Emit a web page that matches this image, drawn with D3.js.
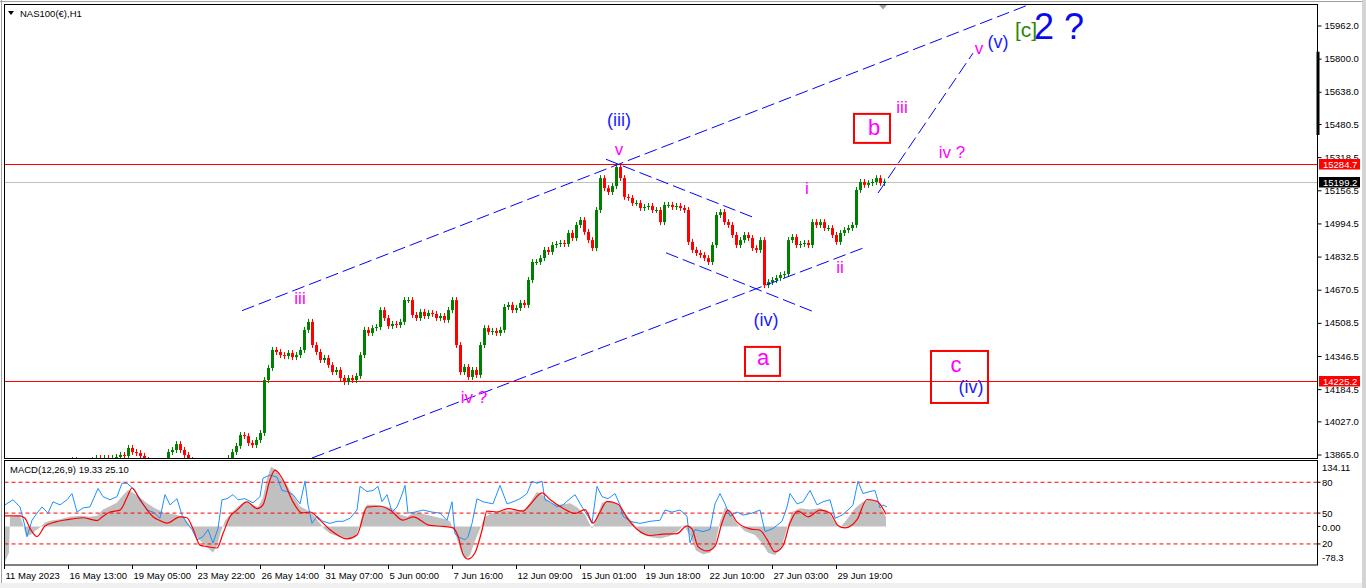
<!DOCTYPE html>
<html>
<head>
<meta charset="utf-8">
<script src="https://cdn.jsdelivr.net/npm/d3@7"></script>
<style>
  body { margin: 0; background: #fff; overflow: hidden; }
  svg { display: block; font-family: "Liberation Sans", Arial, sans-serif; }
</style>
</head>
<body>
<svg id="chart" width="1366" height="588"></svg>
<script>
// ---- data ----
const symbol = 'NAS100(€),H1';
const macdTitle = 'MACD(12,26,9) 19.33 25.10';

// H1 closes, one every 4 bars
const barStep = 4;
const closes = [
  13809,13819,13828,13819,13823,13765,13716,13740,13750,13770,
  13789,13780,13799,13809,13804,13819,13828,13838,13809,13819,
  13823,13828,13838,13848,13838,13848,13843,13848,13853,13863,
  13858,13897,13877,13872,13858,13838,13828,13828,13823,13814,
  13828,13877,13887,13916,13887,13863,13838,13809,13780,13760,
  13770,13780,13750,13765,13789,13828,13848,13877,13907,13960,
  13955,13921,13911,13936,13970,14229,14288,14376,14366,14351,
  14346,14361,14341,14351,14376,14474,14513,14400,14366,14327,
  14337,14302,14268,14278,14239,14219,14239,14229,14249,14351,
  14474,14459,14483,14488,14571,14532,14493,14503,14498,14513,
  14620,14620,14547,14532,14562,14542,14557,14552,14532,14542,
  14523,14571,14620,14400,14268,14293,14244,14278,14254,14400,
  14483,14464,14469,14459,14474,14586,14596,14571,14581,14606,
  14596,14718,14806,14806,14825,14865,14855,14889,14894,14899,
  14894,14948,14923,14987,15011,14953,14913,14874,15060,15216,
  15167,15148,15177,15270,15216,15124,15119,15094,15094,15070,
  15075,15080,15060,15060,15001,15085,15085,15075,15080,15070,
  15060,14904,14865,14850,14840,14825,14806,14889,15036,15050,
  15001,14987,14938,14889,14913,14938,14923,14874,14865,14913,
  14693,14708,14718,14728,14742,14747,14913,14928,14889,14894,
  14899,14889,15001,14987,15001,14972,14972,14938,14904,14948,
  14962,14972,14987,15158,15197,15183,15192,15197,15216,15192,
  15199.2
];

const priceTicks = [15962.0, 15800.0, 15638.0, 15480.5, 15318.5, 15156.5, 14994.5,
  14832.5, 14670.5, 14508.5, 14346.5, 14184.5, 14027.0, 13865.0];

const timeTickStep = 64;
const timeLabels = ['11 May 2023', '16 May 13:00', '19 May 05:00', '23 May 22:00',
  '26 May 14:00', '31 May 07:00', '5 Jun 00:00', '7 Jun 16:00', '12 Jun 09:00',
  '15 Jun 01:00', '19 Jun 18:00', '22 Jun 10:00', '27 Jun 03:00', '29 Jun 19:00'];

// horizontal price lines: [price, kind]
const priceLines = [[15284.7, 'alert'], [15199.2, 'bid'], [14225.2, 'alert']];

// MACD main (histogram), [bar, value]
const macdMain = [
  [0,-78],[5,-55],[6,20],[16,22],[19,5],[22,-20],[26,-18],[32,-8],[36,-2],[41,8],
  [46,12],[56,15],[66,20],[76,22],[86,20],[93,22],[99,35],[106,42],[113,50],[119,65],
  [124,76],[129,70],[136,60],[143,48],[151,38],[161,28],[171,25],[179,20],[184,8],[189,-8],
  [194,-25],[199,-35],[204,-45],[209,-55],[213,-40],[217,-10],[221,12],[226,25],[233,40],[241,52],
  [248,45],[254,40],[259,60],[263,100],[267,124],[272,118],[277,100],[283,85],[289,65],[296,42],
  [302,35],[308,27],[314,12],[320,-5],[326,-15],[336,-22],[346,-25],[352,-20],[356,5],[359,30],
  [363,45],[371,45],[381,42],[388,38],[396,25],[403,20],[411,30],[421,25],[431,20],[441,15],
  [446,10],[451,-15],[456,-45],[461,-68],[466,-60],[471,-30],[476,-5],[481,20],[491,30],[501,33],
  [511,33],[521,35],[526,50],[533,72],[539,65],[546,50],[556,45],[566,48],[573,40],[581,25],
  [588,-5],[593,20],[598,50],[606,52],[614,45],[621,28],[628,10],[636,-12],[646,-22],[656,-25],
  [666,-20],[674,-10],[680,3],[686,-20],[692,-50],[699,-58],[706,-55],[711,-40],[716,10],[721,40],
  [726,30],[733,5],[741,-10],[751,-18],[758,-35],[764,-55],[771,-60],[778,-40],[783,-5],[788,30],
  [796,38],[806,35],[816,38],[824,32],[831,8],[836,-3],[843,15],[851,38],[858,50],[866,57],
  [873,50],[878,35],[882,19.33]
];

// MACD signal, [bar, value]
const macdSignal = [
  [1,22],[16,22],[21,17],[26,-4],[33,-21],[41,1],[51,9],[63,14],[79,18],[93,12],
  [99,21],[106,30],[116,34],[123,60],[128,80],[136,55],[143,35],[149,20],[156,12],[163,7],
  [176,20],[183,18],[189,-5],[196,-39],[203,-42],[213,-45],[219,-15],[226,20],[233,34],[243,51],
  [253,37],[259,45],[266,97],[271,117],[279,97],[289,51],[298,28],[306,30],[316,13],[326,-7],
  [343,-26],[353,-18],[363,40],[376,42],[386,34],[399,13],[409,20],[426,2],[439,0],[449,-3],
  [454,-20],[459,-58],[464,-68],[471,-55],[478,-8],[483,32],[493,30],[504,37],[519,32],[526,45],
  [538,70],[546,56],[559,38],[571,27],[581,35],[589,7],[596,30],[603,52],[614,46],[624,15],
  [633,-6],[646,-19],[659,-16],[673,-15],[683,1],[688,-5],[694,-42],[703,-51],[711,-41],[718,7],
  [724,34],[733,9],[746,-5],[756,-8],[763,-27],[771,-53],[779,-40],[786,7],[794,32],[804,20],
  [816,34],[826,28],[834,2],[841,-3],[853,14],[863,56],[873,52],[882,25.1]
];

// overlaid 0-100 oscillator (blue), [bar, value]
const oscillator = [
  [1,58],[9,63],[16,56],[21,37],[23,27],[28,43],[33,50],[38,56],[44,50],[49,61],
  [56,58],[63,63],[68,69],[73,51],[79,55],[86,56],[94,74],[99,66],[106,63],[113,66],
  [118,79],[123,79],[129,74],[136,64],[143,53],[149,51],[156,45],[161,68],[166,58],[173,64],
  [178,48],[183,40],[188,34],[193,24],[199,27],[204,34],[209,21],[214,35],[218,63],[223,64],
  [229,68],[234,63],[241,64],[249,60],[256,66],[259,84],[266,87],[273,85],[278,72],[283,71],
  [289,68],[296,59],[301,81],[304,58],[308,40],[313,47],[319,42],[326,40],[333,42],[339,42],
  [346,45],[353,53],[356,76],[363,71],[369,72],[374,76],[378,61],[383,68],[388,51],[393,56],
  [398,68],[401,77],[404,50],[411,51],[419,53],[428,51],[436,50],[443,43],[448,61],[451,30],
  [454,27],[461,24],[464,27],[468,40],[473,64],[479,61],[489,59],[496,77],[503,59],[509,61],
  [516,64],[523,69],[528,81],[533,79],[538,81],[541,63],[546,61],[553,56],[559,58],[566,64],
  [571,68],[578,56],[584,47],[588,40],[593,76],[598,66],[604,64],[611,69],[616,58],[619,47],
  [626,42],[636,40],[646,42],[656,43],[661,53],[668,51],[676,53],[683,47],[686,21],[691,34],
  [699,32],[706,34],[711,59],[716,69],[721,59],[726,47],[733,51],[739,48],[748,50],[756,53],
  [761,32],[769,35],[778,42],[783,56],[786,69],[793,59],[799,61],[806,72],[813,58],[819,61],
  [826,63],[831,45],[838,48],[844,53],[849,58],[854,81],[859,69],[866,71],[871,72],[876,55],
  [879,58],[883,56]
];

const macdTicks = [134.11, 0, -78.3];
const levels = [80, 50, 20];

// dashed trend lines: [bar1, price1, bar2, price2]
const trendLines = [
  [238, 14568, 1024, 16062],
  [308, 13848, 859, 14874],
  [602, 15308, 751, 15021],
  [662, 14851, 811, 14560],
  [874, 15143, 969, 15827]
];

// wave labels: [text, bar, baseline price, kind]
const waveLabels = [
  ['(iii)', 615, 15471, 'blue'],
  ['v', 615, 15329, 'minor'],
  ['iii', 296, 14601, 'minor'],
  ['iv ?', 470, 14117, 'minor'],
  ['(iv)', 762, 14493, 'blue'],
  ['a', 759, 14302, 'box'],
  ['b', 870, 15427, 'box'],
  ['iii', 898, 15536, 'minor'],
  ['iv ?', 948, 15313, 'minor'],
  ['i', 803, 15138, 'minor'],
  ['ii', 836, 14751, 'minor'],
  ['c', 952, 14270, 'box'],
  ['(iv)', 967, 14164, 'blue'],
  ['v', 975, 15823, 'minor'],
  ['(v)', 994, 15851, 'blue'],
  ['[c]', 1022, 15904, 'green'],
  ['2 ?', 1055, 15895, 'big']
];

// label boxes: [bar, price] of the centre, [width, height] in px
const labelBoxes = [
  [758.5, 14320, 35, 29],
  [868, 15459, 36, 29],
  [955.5, 14244, 57, 52]
];

// ---- layout ----
const frame = {left: 4.5, right: 1317.5, top: 4.5, bottom: 458.5, subTop: 460.5, subBottom: 565};
const labelStyle = {
  minor: {size: 17, color: '#ff00ff'},
  blue:  {size: 18, color: '#1a1aff'},
  box:   {size: 22, color: '#ff00ff'},
  green: {size: 21, color: '#2a8a00'},
  big:   {size: 36, color: '#0a0aee'}
};

const svg = d3.select('#chart');

const x = d3.scaleLinear().domain([0, 1314]).range([4, 1318]);
const y = d3.scaleLinear().domain([13865, 15962]).range([454.5, 25.5]);
const yMacd = d3.scaleLinear().domain([-78.3, 134.11]).range([564, 462]);
const yLevel = d3.scaleLinear().domain([0, 100]).range([564.5, 461.7]);

const defs = svg.append('defs');
defs.append('clipPath').attr('id', 'clipMain')
    .append('rect').attr('x', frame.left).attr('y', frame.top)
    .attr('width', frame.right - frame.left).attr('height', frame.bottom - frame.top);
defs.append('clipPath').attr('id', 'clipSub')
    .append('rect').attr('x', frame.left).attr('y', frame.subTop)
    .attr('width', frame.right - frame.left).attr('height', frame.subBottom - frame.subTop);

// window chrome
svg.append('rect').attr('x', 0).attr('y', 0).attr('width', 1366).attr('height', 588).attr('fill', '#fff');
svg.append('rect').attr('x', 0).attr('y', 583).attr('width', 1366).attr('height', 5).attr('fill', '#f0f0f0');
svg.append('rect').attr('x', 1362).attr('y', 0).attr('width', 4).attr('height', 588).attr('fill', '#d4d4d4');
svg.append('line').attr('x1', 1.5).attr('x2', 1.5).attr('y1', 0).attr('y2', 583).attr('stroke', '#a0a0a0');
svg.append('line').attr('x1', 0).attr('x2', 1362).attr('y1', 1.5).attr('y2', 1.5).attr('stroke', '#a0a0a0');

// ---- price panel ----
const main = svg.append('g').attr('clip-path', 'url(#clipMain)');

main.selectAll('line.level')
    .data(priceLines)
    .join('line')
        .attr('x1', frame.left).attr('x2', frame.right)
        .attr('y1', d => Math.round(y(d[0])) + 0.5)
        .attr('y2', d => Math.round(y(d[0])) + 0.5)
        .attr('stroke', d => d[1] === 'bid' ? '#c0c0c0' : '#ff0000');

const candles = closes.map((c, i) => ({bar: i * barStep, open: i ? closes[i - 1] : c, close: c}));

const cg = main.selectAll('g.candle')
    .data(candles)
    .join('g')
        .attr('fill', d => d.close >= d.open ? '#008000' : '#ff0000')
        .attr('stroke', d => d.close >= d.open ? '#008000' : '#ff0000');
cg.append('line')
    .attr('x1', d => Math.round(x(d.bar)) + 0.5).attr('x2', d => Math.round(x(d.bar)) + 0.5)
    .attr('y1', d => y(Math.max(d.open, d.close)) - 3)
    .attr('y2', d => y(Math.min(d.open, d.close)) + 3);
cg.append('rect')
    .attr('stroke', 'none')
    .attr('x', d => Math.round(x(d.bar)) - 1)
    .attr('width', 3)
    .attr('y', d => y(Math.max(d.open, d.close)))
    .attr('height', d => Math.max(1, Math.abs(y(d.open) - y(d.close))));

main.selectAll('line.trend')
    .data(trendLines)
    .join('line')
        .attr('x1', d => x(d[0])).attr('y1', d => y(d[1]))
        .attr('x2', d => x(d[2])).attr('y2', d => y(d[3]))
        .attr('stroke', '#0000ff')
        .attr('stroke-width', 1)
        .attr('stroke-dasharray', '13,5');

main.selectAll('rect.box')
    .data(labelBoxes)
    .join('rect')
        .attr('x', d => x(d[0]) - d[2] / 2).attr('y', d => y(d[1]) - d[3] / 2)
        .attr('width', d => d[2]).attr('height', d => d[3])
        .attr('fill', 'none').attr('stroke', '#ff0000').attr('stroke-width', 2);

main.selectAll('text.wave')
    .data(waveLabels)
    .join('text')
        .attr('x', d => x(d[1])).attr('y', d => y(d[2]))
        .attr('text-anchor', 'middle')
        .attr('font-size', d => labelStyle[d[3]].size)
        .attr('fill', d => labelStyle[d[3]].color)
        .text(d => d[0]);

// chart shift marker
svg.append('path').attr('d', 'M879,5 L887,5 L883,9.5 Z').attr('fill', '#a0a0a0');

svg.append('path').attr('d', 'M8,11 L14,11 L11,15 Z').attr('fill', '#000');
svg.append('text').attr('x', 20).attr('y', 16.5).attr('font-size', 9.5).text(symbol);

// ---- MACD panel ----
const sub = svg.append('g').attr('clip-path', 'url(#clipSub)');

sub.append('path')
    .datum(macdMain)
    .attr('fill', '#c0c0c0')
    .attr('d', d3.area().x(d => x(d[0])).y0(yMacd(0)).y1(d => yMacd(d[1])));

sub.selectAll('line.lvl')
    .data(levels)
    .join('line')
        .attr('x1', frame.left).attr('x2', frame.right)
        .attr('y1', d => yLevel(d)).attr('y2', d => yLevel(d))
        .attr('stroke', '#ff0000').attr('stroke-dasharray', '4,3');

sub.append('path')
    .datum(oscillator)
    .attr('fill', 'none').attr('stroke', '#1e90ff').attr('stroke-width', 1)
    .attr('d', d3.line().x(d => x(d[0])).y(d => yLevel(d[1])));

sub.append('path')
    .datum(macdSignal)
    .attr('fill', 'none').attr('stroke', '#ff0000').attr('stroke-width', 1.2)
    .attr('d', d3.line().curve(d3.curveMonotoneX).x(d => x(d[0])).y(d => yMacd(d[1])));

svg.append('text').attr('x', 10).attr('y', 472.5).attr('font-size', 9.5).text(macdTitle);

// frames
svg.append('rect').attr('x', frame.left).attr('y', frame.top)
    .attr('width', frame.right - frame.left).attr('height', frame.bottom - frame.top)
    .attr('fill', 'none').attr('stroke', '#000');
svg.append('rect').attr('x', frame.left).attr('y', frame.subTop)
    .attr('width', frame.right - frame.left).attr('height', frame.subBottom - frame.subTop)
    .attr('fill', 'none').attr('stroke', '#000');

// ---- axes ----
const yAxis = d3.axisRight(y)
    .tickValues(priceTicks)
    .tickFormat(d3.format('.1f'))
    .tickSize(4)
    .tickPadding(3);
const gy = svg.append('g')
    .attr('transform', `translate(${frame.right}, 0)`)
    .call(yAxis);
gy.select('.domain').remove();
gy.selectAll('text').attr('font-size', 9.5).attr('font-family', '"Liberation Sans", Arial, sans-serif').attr('fill', '#000');

// price tags on the scale
const tags = svg.selectAll('g.tag')
    .data(priceLines)
    .join('g')
        .attr('transform', d => `translate(${frame.right + 1.5}, ${Math.round(y(d[0]))})`);
tags.append('rect')
    .attr('x', 0).attr('y', -5).attr('width', 41).attr('height', 10.5)
    .attr('fill', d => d[1] === 'bid' ? '#000' : '#ff0000');
tags.append('text')
    .attr('x', 4).attr('y', 3.8).attr('font-size', 9.5).attr('fill', '#fff')
    .text(d => d3.format('.1f')(d[0]));

// scale handle
svg.append('rect').attr('x', 1316.5).attr('width', 3)
    .attr('y', y(15834)).attr('height', y(15427) - y(15834)).attr('fill', '#000');

const macdAxis = svg.append('g');
macdAxis.selectAll('text.mt')
    .data(macdTicks)
    .join('text')
        .attr('x', frame.right + 4.5)
        .attr('y', (d, i) => yMacd(d) + (i === 0 ? 8.5 : i === 2 ? -3 : 4.5))
        .attr('font-size', 9.5)
        .text(d => d === 0 ? '0.00' : d);
macdAxis.selectAll('text.lt')
    .data(levels)
    .join('text')
        .attr('x', frame.right + 4.5).attr('y', d => yLevel(d) + 3.5)
        .attr('font-size', 9.5)
        .text(d => d);
macdAxis.selectAll('line.tk')
    .data(macdTicks.slice(1, 2).map(yMacd).concat(levels.map(yLevel)))
    .join('line')
        .attr('x1', frame.right).attr('x2', frame.right + 3)
        .attr('y1', d => d).attr('y2', d => d).attr('stroke', '#000');

const xAxis = d3.axisBottom(x)
    .tickValues(timeLabels.map((_, i) => i * timeTickStep))
    .tickFormat((d, i) => timeLabels[i])
    .tickSize(4)
    .tickPadding(3);
const gx = svg.append('g')
    .attr('transform', `translate(0, ${frame.subBottom})`)
    .call(xAxis);
gx.select('.domain').remove();
gx.selectAll('text')
    .attr('text-anchor', 'start').attr('dx', 1)
    .attr('font-size', 9.5).attr('font-family', '"Liberation Sans", Arial, sans-serif').attr('fill', '#000');
</script>
</body>
</html>
